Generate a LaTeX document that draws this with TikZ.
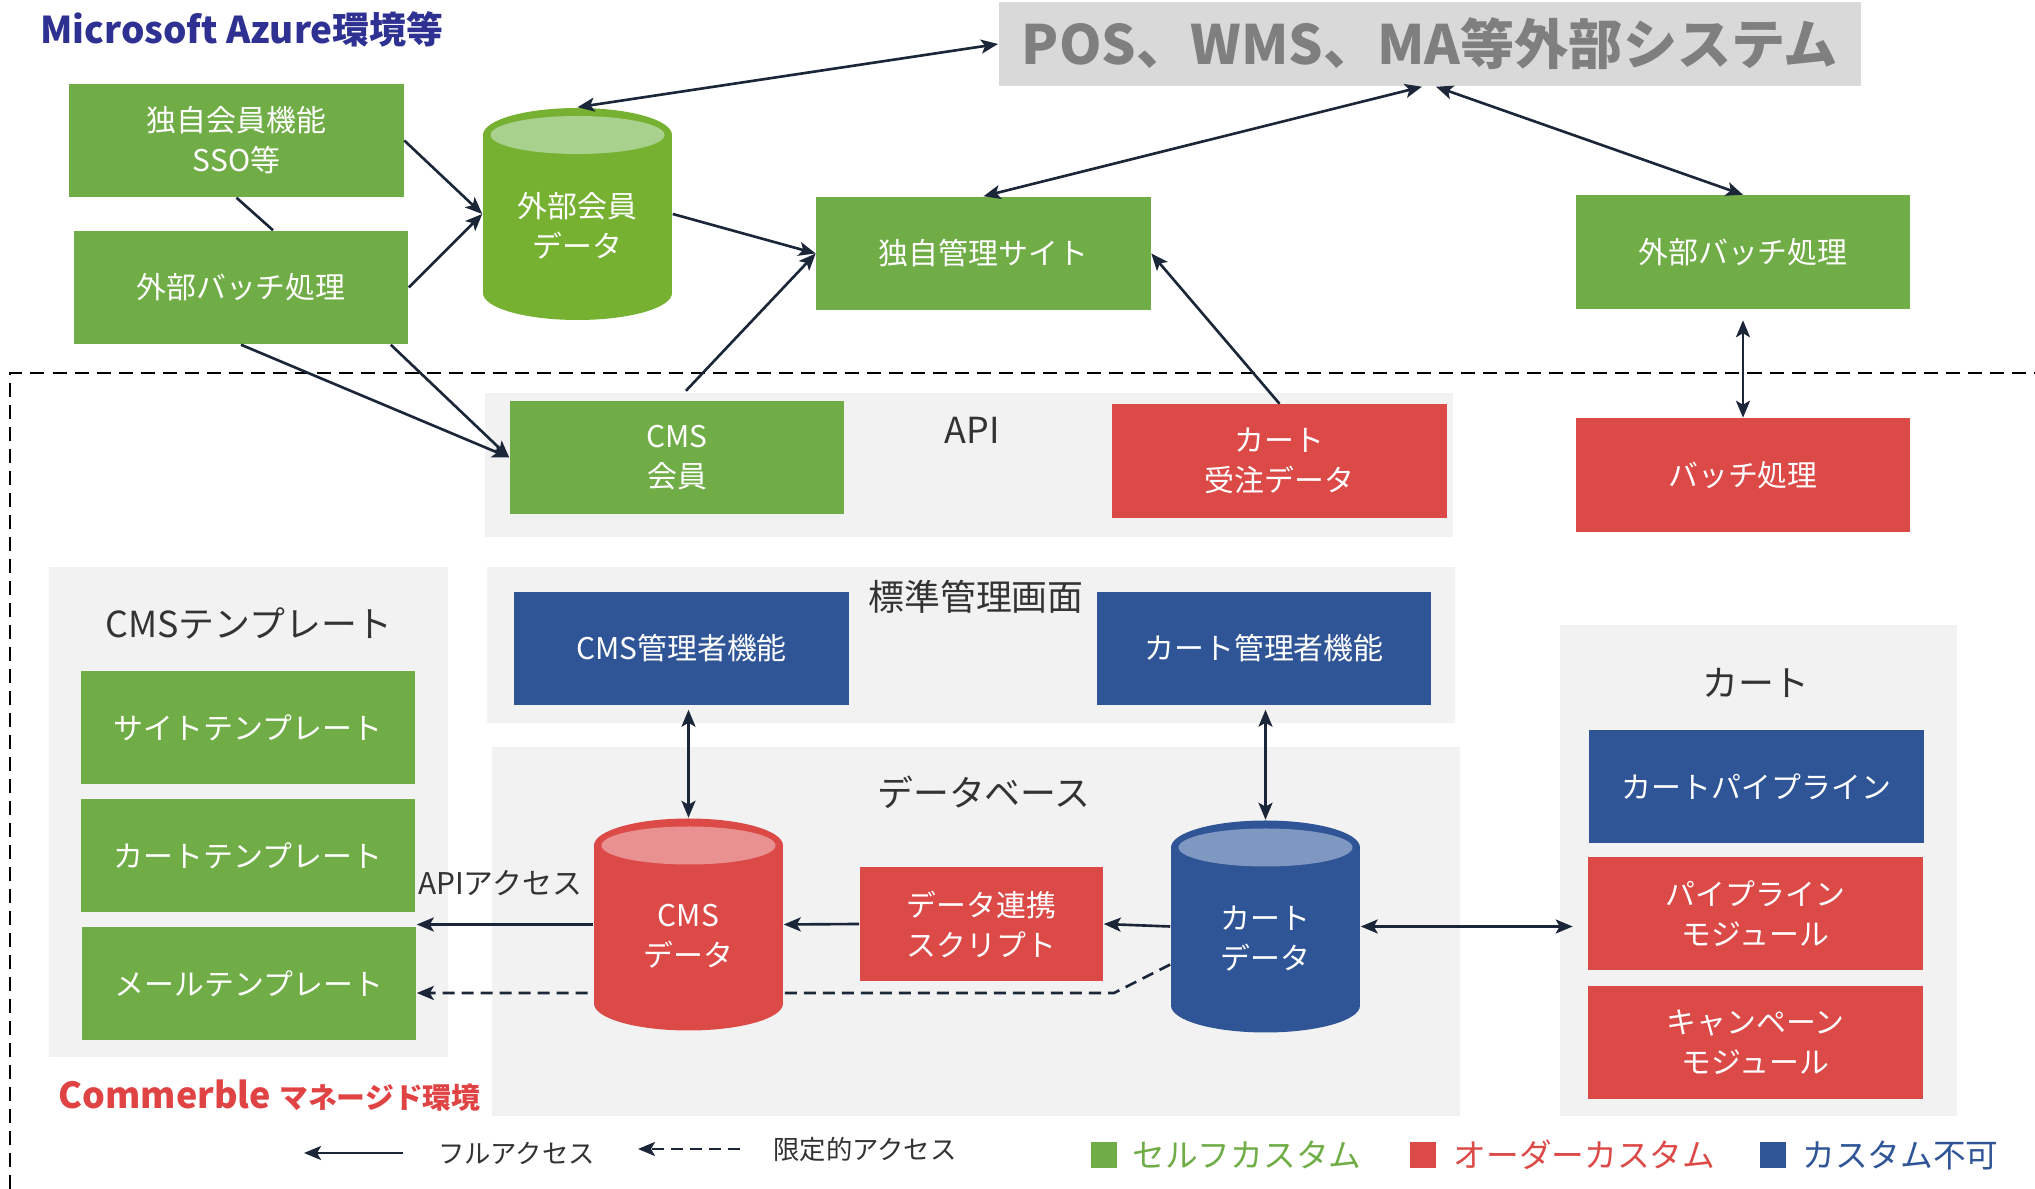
\documentclass[tikz,border=0pt]{standalone}
\usepackage{fontspec}
\setmainfont{Noto Sans CJK JP}
\usepackage{tikz}
\usetikzlibrary{arrows.meta,calc}

\definecolor{selfgreen}{HTML}{70AD47}
\definecolor{dbgreen}{HTML}{76B132}
\definecolor{dbgreentop}{HTML}{A9D18E}
\definecolor{orderred}{HTML}{DC4A48}
\definecolor{dbredtop}{HTML}{E99191}
\definecolor{fixblue}{HTML}{2F5597}
\definecolor{dbbluetop}{HTML}{7F98C2}
\definecolor{areagray}{HTML}{F2F2F2}
\definecolor{posgray}{HTML}{D9D9D9}
\definecolor{postext}{HTML}{7F7F7F}
\definecolor{azureblue}{HTML}{2E3192}
\definecolor{commred}{HTML}{E04343}
\definecolor{linkcol}{HTML}{1B2639}
\definecolor{labelcol}{HTML}{333333}

\pgfdeclarelayer{bg}
\pgfsetlayers{bg,main}

\newcommand{\dbcyl}[6]{
  \fill[#4] (#2-94.5,#3-79) rectangle (#2+94.5,#3+79);
  \fill[#4] (#2,#3-79) ellipse [x radius=94.5, y radius=27];
  \fill[#4] (#2,#3+79) ellipse [x radius=94.5, y radius=27];
  \fill[#5] (#2,#3-79) ellipse [x radius=87, y radius=19];
  \node[minimum width=1.89cm, minimum height=2.12cm, inner sep=0pt] (#1) at (#2,#3) {};
  \node[boxtext] (#1-t) at (#2,#3+12) {#6};
}

\begin{document}
\begin{tikzpicture}[x=0.01cm, y=-0.01cm,
  >={Stealth[length=0.17cm,width=0.14cm,inset=0.04cm]},
  boxtext/.style={text=white, align=center, inner sep=0pt, font=\fontsize{8.5}{11.4}\selectfont},
  plainbox/.style={boxtext, minimum width=3.34cm, minimum height=1.13cm},
  selfbox/.style={plainbox, fill=selfgreen},
  orderbox/.style={plainbox, fill=orderred},
  fixbox/.style={plainbox, fill=fixblue},
  area/.style={fill=areagray},
  arealabel/.style={text=labelcol, inner sep=0pt, font=\fontsize{10.2}{12}\selectfont},
  legendtext/.style={text=labelcol, inner sep=0pt, font=\fontsize{7.5}{9}\selectfont},
  keytext/.style={inner sep=0pt, font=\fontsize{9.3}{11}\selectfont},
  keymark/.style={minimum size=0.26cm, inner sep=0pt},
  link/.style={draw=linkcol, line width=0.75pt},
  limited/.style={link, dash pattern=on 0.12cm off 0.07cm},
  frame/.style={draw=black, line width=0.7pt, dash pattern=on 0.14cm off 0.08cm}]
\useasboundingbox (0,0) rectangle (2035,1189);

\begin{pgfonlayer}{bg}
  \fill[area] (485,393) rectangle (1453,537);
  \fill[area] (49,567) rectangle (448,1057);
  \fill[area] (487,567) rectangle (1455,723);
  \fill[area] (492,747) rectangle (1460,1116);
  \fill[area] (1560,625) rectangle (1957,1116);
\end{pgfonlayer}

\draw[frame] (10,1189) -- (10,373) -- (2035,373);

\node[text=azureblue, inner sep=0pt, font=\fontsize{10.5}{12}\selectfont\bfseries] (azure) at (242,29) {Microsoft Azure環境等};
\node[fill=posgray, minimum width=8.62cm, minimum height=0.84cm, inner sep=0pt, text=postext, font=\fontsize{15.4}{18}\selectfont\bfseries] (pos) at (1430,44) {POS、WMS、MA等外部システム};

\node[selfbox] (ownmember) at (236.5,140.5) {独自会員機能\\SSO等};
\node[selfbox] (extbatchl) at (241,287.5) {外部バッチ処理};
\dbcyl{extmember}{577.5}{214}{dbgreen}{dbgreentop}{外部会員\\データ}
\node[selfbox] (ownsite) at (983.5,253.5) {独自管理サイト};
\node[selfbox] (extbatchr) at (1743,252) {外部バッチ処理};

\node[selfbox] (cmsmember) at (677,457.5) {CMS\\会員};
\node[arealabel] (api) at (972,430) {API};
\node[orderbox] (cartorder) at (1279.5,461) {カート\\受注データ};
\node[orderbox] (batch) at (1743,475) {バッチ処理};

\node[arealabel] (tpltitle) at (249,623) {CMSテンプレート};
\node[selfbox] (sitetpl) at (248,727.5) {サイトテンプレート};
\node[selfbox] (carttpl) at (248,855.5) {カートテンプレート};
\node[selfbox] (mailtpl) at (249,983.5) {メールテンプレート};

\node[arealabel] (stdtitle) at (976,597) {標準管理画面};
\node[fixbox] (cmsadmin) at (681.5,648.5) {CMS管理者機能};
\node[fixbox] (cartadmin) at (1264,648.5) {カート管理者機能};

\node[arealabel] (dbtitle) at (984,792) {データベース};
\dbcyl{cmsdata}{688.5}{924.5}{orderred}{dbredtop}{CMS\\データ}
\node[orderbox, minimum width=2.43cm] (linkscript) at (981.5,924) {データ連携\\スクリプト};
\dbcyl{cartdata}{1265.5}{926.5}{fixblue}{dbbluetop}{カート\\データ}
\node[text=labelcol, inner sep=0pt, font=\fontsize{8.5}{10}\selectfont] (apiaccess) at (500,883) {APIアクセス};

\node[arealabel] (carttitle) at (1756,683) {カート};
\node[fixbox] (pipeline) at (1756.5,786.5) {カートパイプライン};
\node[orderbox] (pipemod) at (1755.5,913.5) {パイプライン\\モジュール};
\node[orderbox] (campmod) at (1755.5,1042.5) {キャンペーン\\モジュール};

\node[anchor=base west, text=commred, inner sep=0pt] (commerble) at (58,1109) {\fontsize{10.2}{13}\selectfont\bfseries Commerble \fontsize{8.2}{10}\selectfont マネージド環境};

\draw[link,->] (ownmember.east) -- (extmember.west);
\draw[link,->] (extbatchl.east) -- (extmember.west);
\draw[link] (ownmember.south) -- ([xshift=0.32cm]extbatchl.north);
\draw[link,->] (extbatchl.south) -- (cmsmember.west);
\draw[link,->] ([xshift=-0.18cm]extbatchl.south east) -- (cmsmember.west);
\draw[link,->] (extmember.east) -- (ownsite.west);
\draw[link,->,shorten <=0.13cm] (cmsmember.north) -- (ownsite.west);
\draw[link,<->] (extmember.north) -- (pos.west);
\draw[link,<->] (ownsite.north) -- ([xshift=-0.08cm]pos.south);
\draw[link,<->] ([xshift=0.06cm]pos.south) -- (extbatchr.north);
\draw[link,->] (cartorder.north) -- (ownsite.east);
\draw[link,<->,shorten <=0.11cm] (extbatchr.south) -- (batch.north);

\draw[link,<->,shorten <=0.04cm] (cmsadmin.south -| cmsdata.north) -- (cmsdata.north);
\draw[link,<->,shorten <=0.04cm] (cartadmin.south -| cartdata.north) -- (cartdata.north);
\draw[link,->] (cmsdata.west) -- (cmsdata.west -| mailtpl.east);
\draw[link,->] (linkscript.west) -- (cmsdata.east);
\draw[link,->] (cartdata.west) -- (linkscript.east);
\draw[link,<->,shorten >=0.15cm] (cartdata.east) -- (cartdata.east -| pipemod.west);

\coordinate (limitbend) at (1114,993);
\begin{pgfonlayer}{bg}
  \draw[limited,->] ([yshift=-0.38cm]cartdata.west) -- (limitbend) -- (limitbend -| mailtpl.east);
\end{pgfonlayer}

\node[legendtext] (fullkey) at (516.5,1153) {フルアクセス};
\node[legendtext] (limitkey) at (865,1149) {限定的アクセス};
\coordinate (fullfrom) at (403,1153);
\coordinate (fullto) at (304,1153);
\coordinate (limitfrom) at (740,1149);
\coordinate (limitto) at (638,1149);
\draw[link,->] (fullfrom) -- (fullto);
\draw[limited,->] (limitfrom) -- (limitto);

\node[keymark, fill=selfgreen] (selfmark) at (1104,1155) {};
\node[keytext, text=selfgreen] (selfkey) at (1247,1155) {セルフカスタム};
\node[keymark, fill=orderred] (ordermark) at (1423,1155) {};
\node[keytext, text=orderred] (orderkey) at (1584.5,1155) {オーダーカスタム};
\node[keymark, fill=fixblue] (fixmark) at (1772.5,1155) {};
\node[keytext, text=fixblue] (fixkey) at (1900.5,1155) {カスタム不可};
\end{tikzpicture}
\end{document}
